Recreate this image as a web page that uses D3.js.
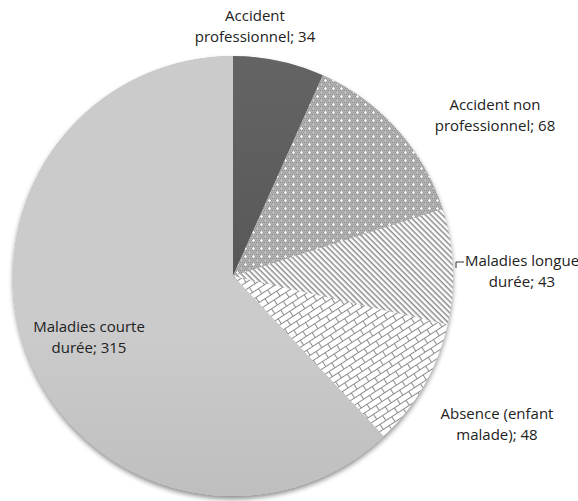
<!DOCTYPE html>
<html><head><meta charset="utf-8">
<script src="https://cdn.jsdelivr.net/npm/d3@7"></script>
<style>body{margin:0;background:#fff}svg{display:block}</style>
</head><body>
<script>
const categories = ["Accident professionnel", "Accident non professionnel", "Maladies longue durée", "Absence (enfant malade)", "Maladies courte durée"];
const values = [34, 68, 43, 48, 315];
const labelLines = [["Accident", "professionnel; 34"], ["Accident non", "professionnel; 68"], ["Maladies longue", "durée; 43"], ["Absence (enfant", "malade); 48"], ["Maladies courte", "durée; 315"]];

const W = 578, H = 501, cx = 233, cy = 276, R = 220;
const svg = d3.select("body").append("svg").attr("width", W).attr("height", H);
const defs = svg.append("defs");

const g1 = defs.append("linearGradient").attr("id","gDark").attr("x1",0).attr("y1",0).attr("x2",0).attr("y2",1);
g1.append("stop").attr("offset","0%").attr("stop-color","#646464");
g1.append("stop").attr("offset","100%").attr("stop-color","#585858");
const g2 = defs.append("linearGradient").attr("id","gLight").attr("gradientUnits","userSpaceOnUse")
  .attr("x1",0).attr("y1",cy-R).attr("x2",0).attr("y2",cy+R);
g2.append("stop").attr("offset","0%").attr("stop-color","#cbcbcb");
g2.append("stop").attr("offset","100%").attr("stop-color","#aaaaaa");

const p1 = defs.append("pattern").attr("id","pDots").attr("patternUnits","userSpaceOnUse").attr("width",8).attr("height",8);
p1.append("rect").attr("width",8).attr("height",8).attr("fill","#b0b0b0");
for (let i=0;i<8;i+=2) for (let j=0;j<8;j+=2) {
  p1.append("rect").attr("x",i+((j/2)%2)).attr("y",j).attr("width",1).attr("height",1).attr("fill","#959595");
}
p1.append("rect").attr("x",3).attr("y",4).attr("width",3).attr("height",1).attr("fill","#f4f4f4");
p1.append("rect").attr("x",4).attr("y",3).attr("width",1).attr("height",3).attr("fill","#f4f4f4");
p1.append("rect").attr("x",0).attr("y",0).attr("width",1).attr("height",1).attr("fill","#dcdcdc");

const p2 = defs.append("pattern").attr("id","pDiag").attr("patternUnits","userSpaceOnUse").attr("width",4).attr("height",4)
  .attr("patternTransform","rotate(45)");
p2.append("rect").attr("width",4).attr("height",4).attr("fill","#fff");
p2.append("rect").attr("x",0).attr("y",0).attr("width",4).attr("height",1.5).attr("fill","#8c8c8c");

const p3 = defs.append("pattern").attr("id","pBrick").attr("patternUnits","userSpaceOnUse").attr("width",14).attr("height",12)
  .attr("patternTransform","rotate(-33)");
p3.append("rect").attr("width",14).attr("height",12).attr("fill","#fff");
p3.append("path").attr("d","M0,0.5H14M0,6.5H14M0.5,0V6M7.5,6V12").attr("stroke","#8c8c8c").attr("stroke-width",1).attr("fill","none");

const f = defs.append("filter").attr("id","shadow").attr("x","-10%").attr("y","-10%").attr("width","120%").attr("height","120%");
f.append("feGaussianBlur").attr("in","SourceAlpha").attr("stdDeviation",2.5);
f.append("feOffset").attr("dx",0).attr("dy",3).attr("result","b");
f.append("feComponentTransfer").append("feFuncA").attr("type","linear").attr("slope",0.45);
const fm = f.append("feMerge"); fm.append("feMergeNode"); fm.append("feMergeNode").attr("in","SourceGraphic");

const fills = ["url(#gDark)","url(#pDots)","url(#pDiag)","url(#pBrick)","url(#gLight)"];

const pie = d3.pie().sort(null).value(d=>d);
const arcs = pie(values);
const arc = d3.arc().innerRadius(0).outerRadius(R);

svg.append("circle").attr("cx",cx).attr("cy",cy).attr("r",R).attr("fill","#bbb").attr("filter","url(#shadow)");
svg.selectAll("path.s").data(arcs).enter().append("path").attr("class","s")
  .attr("transform",`translate(${cx},${cy})`)
  .attr("d",arc).attr("fill",(d,i)=>fills[i]);

const labelPos = [[255,21],[495,110],[522,266],[497,419],[89,332]];
const lg = svg.append("g").attr("font-family","'Open Sans', sans-serif").attr("font-size",15).attr("fill","#222");
labelLines.forEach((lines,i)=>{
  const t = lg.append("text").attr("text-anchor","middle").attr("x",labelPos[i][0]).attr("y",labelPos[i][1]);
  lines.forEach((s,k)=>t.append("tspan").attr("x",labelPos[i][0]).attr("dy",k===0?0:21).text(s));
});
svg.append("path").attr("d","M456,268V262H464").attr("fill","none").attr("stroke","#333").attr("stroke-width",1);
</script>
</body></html>
